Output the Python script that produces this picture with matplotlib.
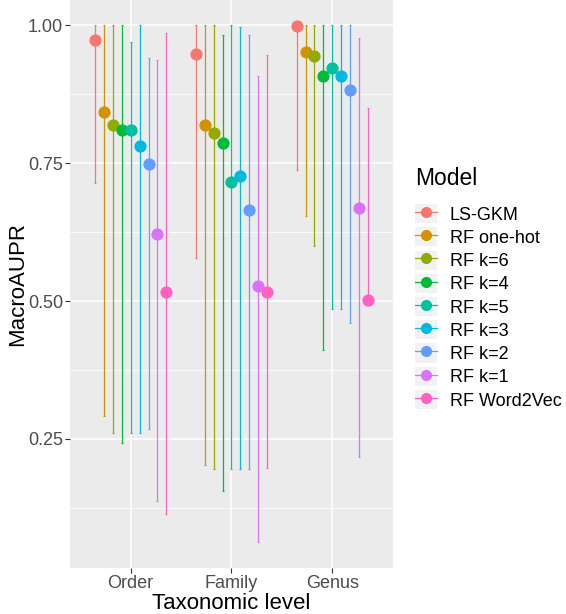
import numpy as np
import matplotlib.pyplot as plt
from matplotlib.lines import Line2D
from matplotlib.patches import Rectangle
from matplotlib.legend_handler import HandlerTuple

plt.rcParams['font.family'] = ['Liberation Sans', 'DejaVu Sans']

models = ['LS-GKM', 'RF one-hot', 'RF k=6', 'RF k=4', 'RF k=5', 'RF k=3', 'RF k=2', 'RF k=1', 'RF Word2Vec']
colors = ['#F8766D', '#D39200', '#93AA00', '#00BA38', '#00C19F', '#00B9E3', '#619CFF', '#DB72FB', '#FF61C3']
levels = ['Order', 'Family', 'Genus']

# mean / lower / upper per level, in model order
order_mean = [0.973, 0.842, 0.819, 0.809, 0.809, 0.780, 0.748, 0.621, 0.516]
order_lo = [0.713, 0.292, 0.260, 0.242, 0.260, 0.260, 0.269, 0.138, 0.115]
order_hi = [1.0, 1.0, 1.0, 1.0, 0.970, 1.0, 0.941, 0.937, 0.985]

family_mean = [0.948, 0.819, 0.804, 0.786, 0.716, 0.726, 0.665, 0.528, 0.516]
family_lo = [0.577, 0.202, 0.195, 0.156, 0.195, 0.195, 0.195, 0.063, 0.197]
family_hi = [1.0, 1.0, 1.0, 0.982, 1.0, 0.996, 0.981, 0.907, 0.946]

genus_mean = [0.999, 0.951, 0.943, 0.908, 0.923, 0.907, 0.882, 0.668, 0.501]
genus_lo = [0.737, 0.654, 0.600, 0.411, 0.485, 0.485, 0.461, 0.218, 0.498]
genus_hi = [1.0, 1.0, 1.0, 1.0, 1.0, 1.0, 1.0, 0.976, 0.850]

means = np.array([order_mean, family_mean, genus_mean])
los = np.array([order_lo, family_lo, genus_lo])
his = np.array([order_hi, family_hi, genus_hi])

fig = plt.figure(figsize=(5.66, 6.14), dpi=100)
ax = fig.add_axes([70/566, 1 - 568/614, 323/566, 568/614])
ax.set_facecolor('#EBEBEB')
for s in ax.spines.values():
    s.set_visible(False)

x = np.arange(1, len(levels) + 1)
n = len(models)
dw = 0.8 / n
for i, m in enumerate(models):
    xi = x + (i - (n - 1) / 2) * dw
    ax.errorbar(xi, means[:, i], yerr=[means[:, i] - los[:, i], his[:, i] - means[:, i]],
                fmt='none', ecolor=colors[i], elinewidth=0.9, capsize=0.9, capthick=0.8, zorder=2)
    ax.plot(xi, means[:, i], 'o', color=colors[i], markersize=7.8, zorder=3)

ax.set_xlim(0.4, 3.6)
ax.set_ylim(0.0163, 1.0453)
ax.set_xticks(x)
ax.set_xticklabels(levels)
ax.set_yticks([0.25, 0.5, 0.75, 1.0])
ax.set_yticklabels(['0.25', '0.50', '0.75', '1.00'])
ax.set_yticks([0.125, 0.375, 0.625, 0.875], minor=True)
ax.grid(True, which='major', color='white', linewidth=1.1, zorder=0)
ax.grid(True, which='minor', axis='y', color='white', linewidth=0.55, zorder=0)
ax.set_axisbelow(True)
ax.tick_params(which='major', length=3.5, width=0.8, color='#333333', labelcolor='#4D4D4D',
               labelsize=13, pad=1.5)
ax.tick_params(axis='x', pad=1.5)
ax.tick_params(which='minor', length=0)

ax.set_xlabel('Taxonomic level', fontsize=16, labelpad=0.5)
ax.set_ylabel('MacroAUPR', fontsize=16, labelpad=-0.5)

handles = []
for c in colors:
    box = Rectangle((0, 0), 1, 1, facecolor='#F2F2F2', edgecolor='none')
    ln = Line2D([], [], color=c, linewidth=0.9, marker='o', markersize=7)
    handles.append((box, ln))
leg = fig.legend(handles, models, loc='upper left', bbox_to_anchor=(408/566, 1 - 160/614),
                 title='Model', fontsize=13, title_fontsize=16.5, frameon=False,
                 handler_map={tuple: HandlerTuple(ndivide=1)},
                 handlelength=1.2, handleheight=1.25, labelspacing=0.2, handletextpad=0.7,
                 borderaxespad=0)
leg._legend_box.align = 'left'
leg._legend_box.sep = 10

fig.savefig('out.png', dpi=100)
